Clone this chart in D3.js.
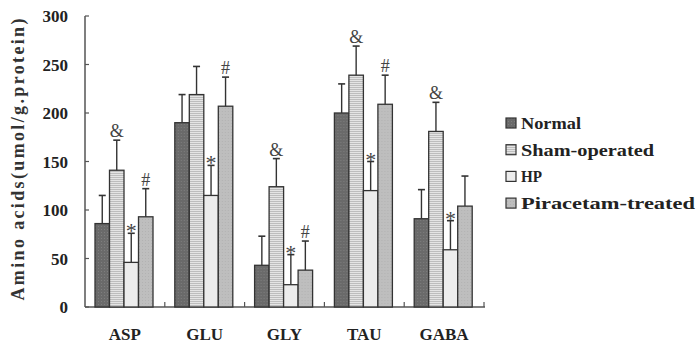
<!DOCTYPE html>
<html>
<head>
<meta charset="utf-8">
<script src="https://cdn.jsdelivr.net/npm/d3@7"></script>
<style>
  body { margin: 0; background: #fff; }
  svg { display: block; }
</style>
</head>
<body>
<div id="chart"></div>
<script>
// data
const categories = ['ASP', 'GLU', 'GLY', 'TAU', 'GABA'];
const series = ['Normal', 'Sham-operated', 'HP', 'Piracetam-treated'];
const normalMean = [86, 190, 43, 200, 91];
const normalErr = [29, 29, 30, 30, 30];
const shamMean = [141, 219, 124, 239, 181];
const shamErr = [31, 29, 29, 30, 30];
const hpMean = [46, 115, 23, 120, 59];
const hpErr = [30, 31, 31, 30, 30];
const piracetamMean = [93, 207, 38, 209, 104];
const piracetamErr = [29, 30, 30, 30, 31];
// significance marks per series, per category
const marks = [
  ['', '', '', '', ''],
  ['&', '', '&', '&', '&'],
  ['*', '*', '*', '*', '*'],
  ['#', '#', '#', '#', '']
];
const yTicks = [0, 50, 100, 150, 200, 250, 300];

const width = 696, height = 345;
const means = [normalMean, shamMean, hpMean, piracetamMean];
const errs = [normalErr, shamErr, hpErr, piracetamErr];

const svg = d3.select('#chart').append('svg')
  .attr('width', width)
  .attr('height', height);

// fill patterns for the four groups
const defs = svg.append('defs');
const pNormal = defs.append('pattern').attr('id', 'pNormal')
  .attr('width', 3).attr('height', 3).attr('patternUnits', 'userSpaceOnUse');
pNormal.append('rect').attr('width', 3).attr('height', 3).attr('fill', '#6a6a6a');
pNormal.append('rect').attr('x', 1).attr('y', 1).attr('width', 1).attr('height', 1).attr('fill', '#7e7e7e');

const pSham = defs.append('pattern').attr('id', 'pSham')
  .attr('width', 4).attr('height', 2).attr('patternUnits', 'userSpaceOnUse');
pSham.append('rect').attr('width', 4).attr('height', 2).attr('fill', '#e4e4e4');
pSham.append('rect').attr('y', 1).attr('width', 4).attr('height', 1).attr('fill', '#bdbdbd');

const pHp = defs.append('pattern').attr('id', 'pHp')
  .attr('width', 3).attr('height', 3).attr('patternUnits', 'userSpaceOnUse');
pHp.append('rect').attr('width', 3).attr('height', 3).attr('fill', '#ececec');

const pPir = defs.append('pattern').attr('id', 'pPir')
  .attr('width', 3).attr('height', 3).attr('patternUnits', 'userSpaceOnUse');
pPir.append('rect').attr('width', 3).attr('height', 3).attr('fill', '#bebebe');
pPir.append('rect').attr('width', 1).attr('height', 1).attr('fill', '#b2b2b2');

const fills = ['url(#pNormal)', 'url(#pSham)', 'url(#pHp)', 'url(#pPir)'];

// scales
const y = d3.scaleLinear().domain([0, 300]).range([307, 16]);
const x0 = d3.scaleBand().domain(categories).range([85, 484]);
const x1 = d3.scaleBand().domain(d3.range(series.length)).range([10, 68]);

const axisColor = '#555';
const fontSerif = "'Liberation Serif', 'DejaVu Serif', serif";

// y axis
const yAxis = svg.append('g');
yAxis.append('line')
  .attr('x1', 85).attr('x2', 85)
  .attr('y1', y(300)).attr('y2', y(0))
  .attr('stroke', axisColor).attr('stroke-width', 1.5);
yAxis.selectAll('.tick').data(yTicks).enter().append('line')
  .attr('x1', 85).attr('x2', 89)
  .attr('y1', d => y(d)).attr('y2', d => y(d))
  .attr('stroke', axisColor).attr('stroke-width', 1.2);
yAxis.selectAll('text').data(yTicks).enter().append('text')
  .attr('x', 68)
  .attr('y', d => y(d) + 6)
  .attr('text-anchor', 'end')
  .attr('font-family', fontSerif)
  .attr('font-weight', 'bold')
  .attr('font-size', 17)
  .attr('fill', '#222')
  .text(d => d);

// y title
svg.append('text')
  .attr('transform', `translate(24, ${(y(0) + y(300)) / 2 - 2}) rotate(-90)`)
  .attr('text-anchor', 'middle')
  .attr('font-family', fontSerif)
  .attr('font-weight', 'bold')
  .attr('font-size', 18)
  .attr('fill', '#333')
  .attr('textLength', 282)
  .attr('lengthAdjust', 'spacing')
  .text('Amino acids(umol/g.protein)');

// x axis
const xAxis = svg.append('g');
xAxis.append('line')
  .attr('x1', 85).attr('x2', 485)
  .attr('y1', y(0)).attr('y2', y(0))
  .attr('stroke', axisColor).attr('stroke-width', 1.5);
xAxis.selectAll('.tick').data(categories).enter().append('line')
  .attr('x1', d => x0(d) + x0.bandwidth()).attr('x2', d => x0(d) + x0.bandwidth())
  .attr('y1', y(0)).attr('y2', y(0) - 5)
  .attr('stroke', axisColor).attr('stroke-width', 1.2);
xAxis.selectAll('text').data(categories).enter().append('text')
  .attr('x', d => x0(d) + x0.bandwidth() / 2)
  .attr('y', 340)
  .attr('text-anchor', 'middle')
  .attr('font-family', fontSerif)
  .attr('font-weight', 'bold')
  .attr('font-size', 17)
  .attr('fill', '#222')
  .text(d => d);

// bars
const groups = svg.selectAll('.grp').data(categories).enter().append('g')
  .attr('transform', d => `translate(${x0(d)},0)`);

series.forEach((s, si) => {
  groups.append('rect')
    .attr('x', x1(si))
    .attr('y', (d, ci) => y(means[si][ci]))
    .attr('width', x1.bandwidth())
    .attr('height', (d, ci) => y(0) - y(means[si][ci]))
    .attr('fill', fills[si])
    .attr('stroke', '#333')
    .attr('stroke-width', 1.3);

  const cx = x1(si) + x1.bandwidth() / 2;
  // error bars
  groups.append('line')
    .attr('x1', cx).attr('x2', cx)
    .attr('y1', (d, ci) => y(means[si][ci]))
    .attr('y2', (d, ci) => y(means[si][ci] + errs[si][ci]))
    .attr('stroke', '#333').attr('stroke-width', 1.4);
  groups.append('line')
    .attr('x1', cx - 3.5).attr('x2', cx + 3.5)
    .attr('y1', (d, ci) => y(means[si][ci] + errs[si][ci]))
    .attr('y2', (d, ci) => y(means[si][ci] + errs[si][ci]))
    .attr('stroke', '#333').attr('stroke-width', 1.6);
  // significance marks
  groups.append('text')
    .attr('x', cx)
    .attr('y', (d, ci) => y(means[si][ci] + errs[si][ci]) + (si === 2 ? 5 : -3))
    .attr('text-anchor', 'middle')
    .attr('font-family', fontSerif)
    .attr('font-size', si === 2 ? 22 : 18)
    .attr('fill', '#444')
    .text((d, ci) => marks[si][ci]);
});

// legend
const legendWidths = [60, 133, 21, 174];
const legend = svg.append('g');
series.forEach((s, si) => {
  const ly = 123 + si * 26.7;
  legend.append('rect')
    .attr('x', 506).attr('y', ly - 5)
    .attr('width', 10).attr('height', 10)
    .attr('fill', fills[si])
    .attr('stroke', '#333').attr('stroke-width', 1.2);
  legend.append('text')
    .attr('x', 521).attr('y', ly + 6)
    .attr('font-family', fontSerif)
    .attr('font-weight', 'bold')
    .attr('font-size', 17)
    .attr('fill', '#222')
    .attr('textLength', legendWidths[si])
    .attr('lengthAdjust', 'spacingAndGlyphs')
    .text(s);
});
</script>
</body>
</html>
